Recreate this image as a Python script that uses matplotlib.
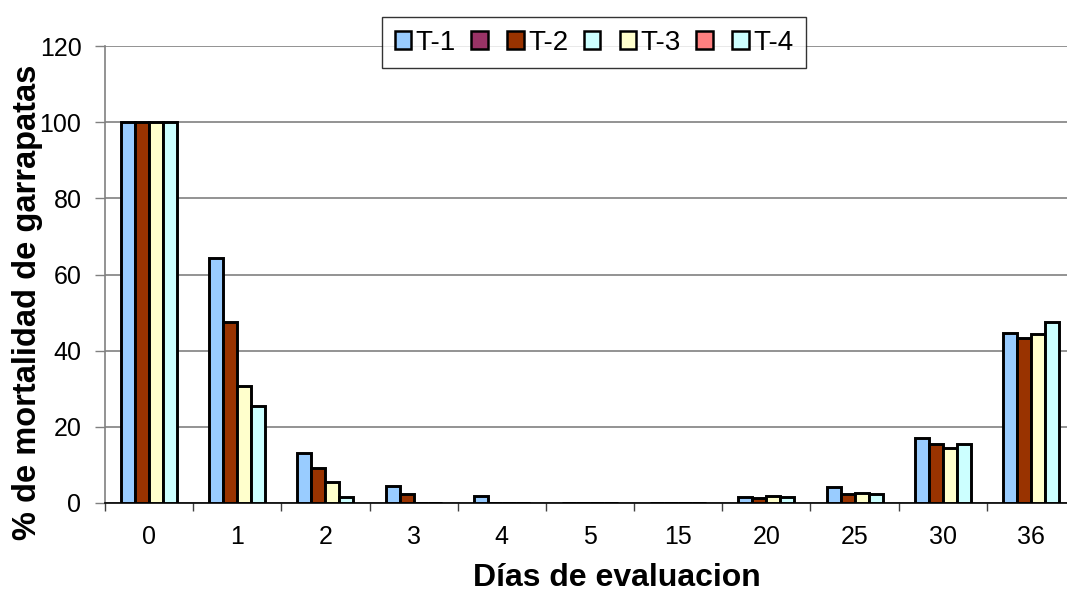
import numpy as np
import matplotlib.pyplot as plt
from matplotlib.patches import Patch

plt.rcParams['font.family'] = ['Liberation Sans', 'DejaVu Sans']

# Data
dias = ['0', '1', '2', '3', '4', '5', '15', '20', '25', '30', '36']
t1 = [100, 64.3, 13.0, 4.5, 1.8, 0, 0, 1.5, 4.1, 17.0, 44.7]
t2 = [100, 47.6, 9.1, 2.3, 0, 0, 0, 1.2, 2.4, 15.4, 43.2]
t3 = [100, 30.7, 5.6, 0, 0, 0, 0, 1.8, 2.7, 14.4, 44.4]
t4 = [100, 25.5, 1.7, 0, 0, 0, 0, 1.7, 2.3, 15.4, 47.4]

series = [t1, t2, t3, t4]
colors = ['#99CCFF', '#993300', '#FFFFCC', '#CCFFFF']

# legend entries (Excel shows extra unnamed series)
leg_colors = ['#99CCFF', '#993366', '#993300', '#CCFFFF', '#FFFFCC', '#FF8080', '#CCFFFF']
leg_labels = ['T-1', '', 'T-2', '', 'T-3', '', 'T-4']

fig = plt.figure(figsize=(10.67, 5.96), dpi=100)
# plot area runs a little past the right edge of the image
ax = fig.add_axes([105 / 1067, 93 / 596, 970 / 1067, 457 / 596])

x = np.arange(len(dias))
w = 0.159
for i, (vals, c) in enumerate(zip(series, colors)):
    ax.bar(x + (i - 1.5) * w, vals, width=w, color=c, edgecolor='black',
           linewidth=2.1, zorder=3)

ax.set_xlim(-0.5, len(dias) - 0.5)
ax.set_ylim(0, 120)
ax.set_yticks(np.arange(0, 121, 20))
ax.yaxis.grid(True, color='#808080', linewidth=1.2, zorder=0)
ax.set_xticks(x)
ax.set_xticklabels(dias)
ax.set_xticks(np.arange(-0.5, len(dias), 1), minor=True)
ax.tick_params(axis='x', which='major', length=0, labelsize=18, pad=16)
ax.tick_params(axis='x', which='minor', length=6, width=1, color='#404040')
ax.tick_params(axis='y', length=7, width=1, color='#808080', labelsize=18, pad=10)

for s in ['top', 'right']:
    ax.spines[s].set_visible(False)
ax.spines['left'].set_color('#808080')
ax.spines['left'].set_linewidth(1.2)
ax.spines['bottom'].set_color('black')
ax.spines['bottom'].set_linewidth(1.2)

ax.set_xlabel('Días de evaluacion', fontsize=23, fontweight='bold')
ax.xaxis.label.set_va('center')
ax.xaxis.set_label_coords(0.528, -0.164)
ax.set_ylabel('% de mortalidad de garrapatas', fontsize=23.5, fontweight='bold')
ax.yaxis.label.set_va('center')
ax.yaxis.set_label_coords(-0.0804, 0.44)

handles = [Patch(facecolor=c, edgecolor='black', linewidth=1.8) for c in leg_colors]
leg = fig.legend(handles, leg_labels, loc='center', bbox_to_anchor=(594 / 1067, 1 - 42.5 / 596),
                 ncol=7, fontsize=20, frameon=True, fancybox=False,
                 handlelength=0.6, handleheight=0.6, handletextpad=0.15,
                 columnspacing=0.55, borderpad=0.45)
leg.get_frame().set_edgecolor('black')
leg.get_frame().set_linewidth(1.0)

fig.savefig('out.png', dpi=100)
